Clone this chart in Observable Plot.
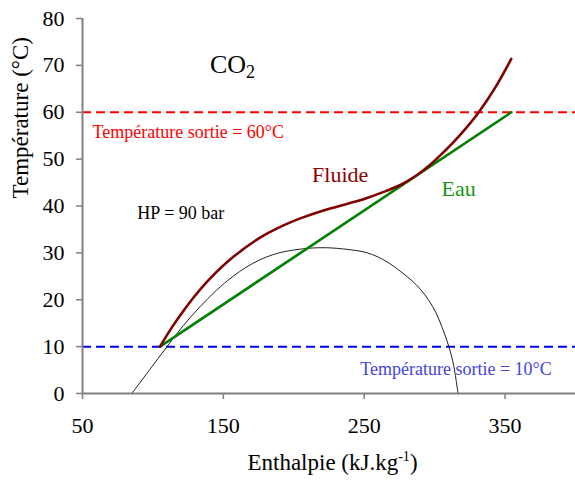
<!DOCTYPE html>
<html>
<head>
<meta charset="utf-8">
<script src="https://cdn.jsdelivr.net/npm/d3@7"></script>
<script src="https://cdn.jsdelivr.net/npm/@observablehq/plot@0.6"></script>
<style>
  html, body { margin: 0; padding: 0; background: #fff; }
  svg { display: block; }
  svg text { font-family: "Liberation Serif", "Times New Roman", serif; font-variant-numeric: normal; }
</style>
</head>
<body>
<div id="chart"></div>
<script>
// Data
const fluideH = [105, 113, 121.6, 130, 140.5, 156.9, 175.8, 192.3, 204.1, 220.5, 239.4, 250, 262.9, 277.1, 287, 296, 304, 312.4, 322, 331.3, 343.1, 354.4];
const fluideT = [10, 13.9, 17.6, 20.9, 24.5, 29.1, 33.2, 35.8, 37.3, 39.0, 40.6, 41.5, 42.9, 44.7, 46.5, 48.6, 50.8, 53.3, 56.5, 60.0, 65.3, 71.4];
const eauH = [105, 354.5];
const eauT = [10, 60];
const domeH = [85, 97.5, 110, 121.6, 133.4, 145, 156.9, 166, 175.8, 185, 192.3, 200, 211, 223, 239.4, 251.2, 260, 267.7, 276, 284.1, 290, 296, 301, 305.3, 310.1, 313.5, 316.6];
const domeT = [0, 5, 10, 14.5, 18.5, 22, 25, 26.9, 28.5, 29.6, 30.2, 30.6, 31.0, 31.1, 30.7, 30.1, 29.1, 27.8, 26.0, 24.0, 22.2, 19.8, 17.2, 14.1, 10, 6, 0];
const outletTemps = [60, 10];
const xTicks = [50, 150, 250, 350];
const yTicks = [0, 10, 20, 30, 40, 50, 60, 70, 80];

const fluide = fluideH.map((h, i) => ({h, t: fluideT[i]}));
const eau = eauH.map((h, i) => ({h, t: eauT[i]}));
const dome = domeH.map((h, i) => ({h, t: domeT[i]}));

const annotations = [
  {h: 140.5, t: 70.25, text: "CO2", color: "#000", size: 26},
  {h: 57.1, t: 55.8, text: "Température sortie = 60°C", color: "#ff0000", size: 18},
  {h: 247.2, t: 5.1, text: "Température sortie = 10°C", color: "#4444dd", size: 18},
  {h: 213.0, t: 46.7, text: "Fluide", color: "#8b0000", size: 22},
  {h: 304.9, t: 43.7, text: "Eau", color: "#149614", size: 22},
  {h: 88.9, t: 38.5, text: "HP = 90 bar", color: "#000", size: 18}
];

const serif = "Liberation Serif";

const plot = Plot.plot({
  width: 575,
  height: 485,
  marginLeft: 82,
  marginRight: 0,
  marginTop: 18,
  marginBottom: 92,
  style: {fontFamily: serif, fontSize: "22px", background: "#fff"},
  x: {domain: [50, 400]},
  y: {domain: [0, 80]},
  marks: [
    Plot.axisX({ticks: xTicks, tickSize: 6, tickPadding: 18, fontSize: 22, fontFamily: serif, stroke: "#808080", strokeWidth: 1.5, fill: "#000", label: null}),
    Plot.axisY({ticks: yTicks, tickSize: 6, tickPadding: 12, fontSize: 22, fontFamily: serif, stroke: "#808080", strokeWidth: 1.5, fill: "#000", label: null}),
    Plot.ruleY(outletTemps, {y: d => d, stroke: d => d === 60 ? "#ff0000" : "#0000ff", strokeWidth: 2, strokeDasharray: "9,5"}),
    Plot.line(dome, {x: "h", y: "t", stroke: "#222", strokeWidth: 1, curve: "catmull-rom"}),
    Plot.line(eau, {x: "h", y: "t", stroke: "#008000", strokeWidth: 2.6}),
    Plot.line(fluide, {x: "h", y: "t", stroke: "#800000", strokeWidth: 2.6, curve: "catmull-rom"}),
    Plot.ruleX([50], {stroke: "#808080", strokeWidth: 2}),
    Plot.ruleY([0], {stroke: "#808080", strokeWidth: 2}),
    ...annotations.map(a => Plot.text([a], {x: "h", y: "t", text: "text", fill: a.color, fontSize: a.size, fontFamily: serif, textAnchor: "start", lineAnchor: "middle"})),
    Plot.text(["Température (°C)"], {text: d => d, frameAnchor: "left", rotate: -90, dx: -62, dy: -7.5, fontSize: 23, fontFamily: serif, fill: "#000"}),
    Plot.text(["Enthalpie (kJ.kg-1)"], {text: d => d, frameAnchor: "bottom", dx: 3.5, dy: 76, fontSize: 23, fontFamily: serif, fill: "#000"})
  ]
});

document.getElementById("chart").appendChild(plot);

// Sub/superscripts
d3.select(plot).selectAll("text").each(function() {
  const el = d3.select(this);
  if (this.textContent === "CO2") {
    el.text(null);
    el.append("tspan").text("CO");
    el.append("tspan").attr("dy", 5).attr("font-size", 18).text("2");
  } else if (this.textContent === "Enthalpie (kJ.kg-1)") {
    el.text(null);
    el.append("tspan").text("Enthalpie (kJ.kg");
    el.append("tspan").attr("dy", -9).attr("font-size", 14).text("-1");
    el.append("tspan").attr("dy", 9).text(")");
  }
});
</script>
</body>
</html>
